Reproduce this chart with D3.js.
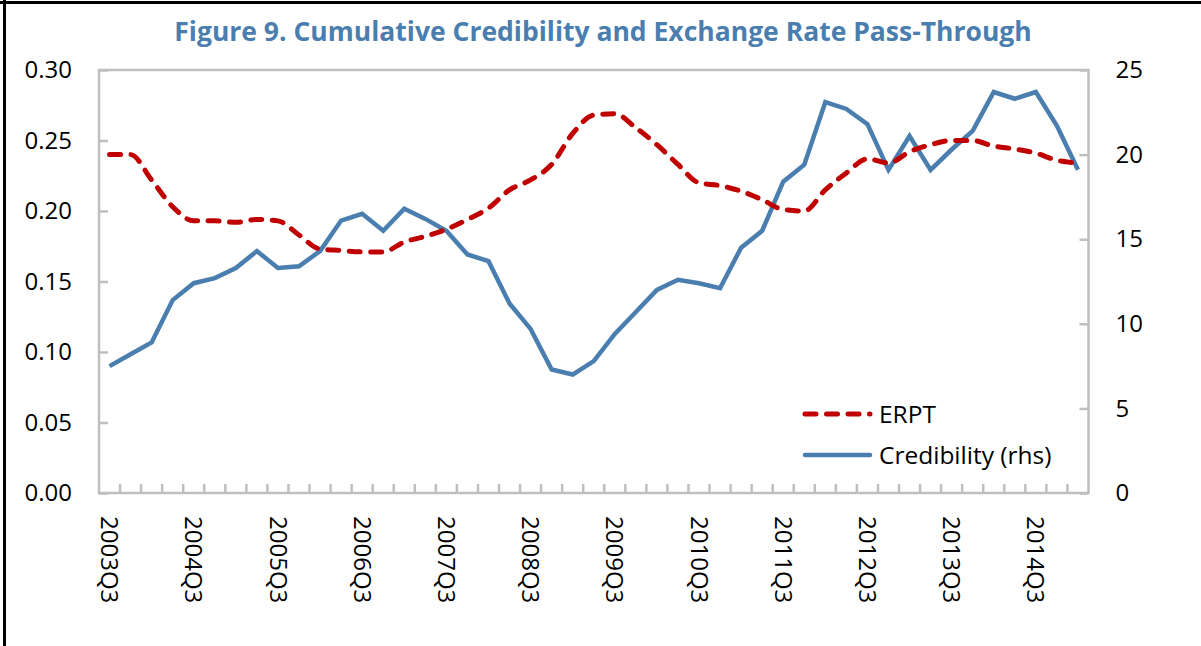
<!DOCTYPE html>
<html>
<head>
<meta charset="utf-8">
<script src="https://cdn.jsdelivr.net/npm/d3@7"></script>
<style>
  body { margin: 0; background: #fff; }
  text { font-family: "Open Sans", "Noto Sans", sans-serif; }
</style>
</head>
<body>
<div id="chart"></div>
<script>
var width = 1201;
var height = 646;

var quarters = [];
for (var yr = 2003; yr <= 2015; yr++) {
  ["Q1", "Q2", "Q3", "Q4"].forEach(function(q) { quarters.push(yr + q); });
}
quarters = quarters.slice(2, 49); // 2003Q3 .. 2015Q1

var erpt = [0.240, 0.240, 0.222, 0.203, 0.193, 0.193, 0.192, 0.194, 0.193, 0.183,
  0.173, 0.172, 0.171, 0.171, 0.178, 0.182, 0.187, 0.194, 0.202, 0.215,
  0.222, 0.233, 0.255, 0.268, 0.269, 0.259, 0.247, 0.233, 0.220, 0.218,
  0.214, 0.208, 0.201, 0.200, 0.215, 0.227, 0.237, 0.234, 0.242, 0.247,
  0.250, 0.250, 0.246, 0.244, 0.241, 0.236, 0.234];

var credibility = [7.5, 8.2, 8.9, 11.4, 12.4, 12.7, 13.3, 14.3, 13.3, 13.4,
  14.3, 16.1, 16.5, 15.5, 16.8, 16.2, 15.5, 14.1, 13.7, 11.2,
  9.7, 7.3, 7.0, 7.8, 9.4, 10.7, 12.0, 12.6, 12.4, 12.1,
  14.5, 15.5, 18.4, 19.4, 23.1, 22.7, 21.8, 19.1, 21.1, 19.1,
  20.3, 21.4, 23.7, 23.3, 23.7, 21.7, 19.1];

var leftTicks = [0, 0.05, 0.10, 0.15, 0.20, 0.25, 0.30];
var rightTicks = [0, 5, 10, 15, 20, 25];

var m = { left: 99, right: 1088.5, top: 70, bottom: 493 };
var red = "#C00000";
var blue = "#4A7EAF";
var grey = "#BFBFBF";

var svg = d3.select("#chart").append("svg")
  .attr("width", width)
  .attr("height", height);

// outer frame (top and left edges visible)
svg.append("line").attr("x1", 4.5).attr("x2", 4.5).attr("y1", 0).attr("y2", height)
  .attr("stroke", "#000").attr("stroke-width", 3);
svg.append("line").attr("x1", 0).attr("x2", width).attr("y1", 2.5).attr("y2", 2.5)
  .attr("stroke", "#000").attr("stroke-width", 3);

svg.append("text")
  .attr("x", 603).attr("y", 41)
  .attr("text-anchor", "middle")
  .attr("font-size", 26.5).attr("font-weight", "bold")
  .attr("fill", blue)
  .text("Figure 9. Cumulative Credibility and Exchange Rate Pass-Through");

var x = d3.scaleBand().domain(quarters).range([m.left, m.right]).padding(0);
var yL = d3.scaleLinear().domain([0, 0.30]).range([m.bottom, m.top]);
var yR = d3.scaleLinear().domain([0, 25]).range([m.bottom, m.top]);

// plot frame
svg.append("rect")
  .attr("x", m.left).attr("y", m.top)
  .attr("width", m.right - m.left).attr("height", m.bottom - m.top)
  .attr("fill", "none").attr("stroke", grey).attr("stroke-width", 2.5);

// left axis
var gL = svg.append("g").attr("transform", "translate(" + m.left + ",0)")
  .call(d3.axisRight(yL).tickValues(leftTicks).tickSize(9).tickFormat(d3.format(".2f")));
gL.select(".domain").remove();
gL.selectAll(".tick line").attr("stroke", grey).attr("stroke-width", 2.5);
gL.selectAll(".tick text").attr("x", -27).attr("text-anchor", "end")
  .attr("font-size", 24).attr("fill", "#000");

// right axis
var gR = svg.append("g").attr("transform", "translate(" + m.right + ",0)")
  .call(d3.axisLeft(yR).tickValues(rightTicks).tickSize(9));
gR.select(".domain").remove();
gR.selectAll(".tick line").attr("stroke", grey).attr("stroke-width", 2.5);
gR.selectAll(".tick text").attr("x", 27).attr("text-anchor", "start")
  .attr("font-size", 24).attr("fill", "#000");

// bottom ticks between categories
var bounds = quarters.slice(1).map(function(q) { return x(q); });
svg.selectAll(".xtick").data(bounds).enter().append("line")
  .attr("x1", function(d) { return d; }).attr("x2", function(d) { return d; })
  .attr("y1", m.bottom).attr("y2", m.bottom - 9)
  .attr("stroke", grey).attr("stroke-width", 2.5);

// x labels every 4 quarters
var labelled = quarters.filter(function(q, i) { return i % 4 === 0; });
svg.selectAll(".xlab").data(labelled).enter().append("text")
  .attr("transform", function(d) {
    return "translate(" + (x(d) + x.bandwidth() / 2) + "," + 516 + ") rotate(90)";
  })
  .attr("dy", "0.35em")
  .attr("font-size", 24).attr("fill", "#000")
  .text(function(d) { return d; });

var cx = function(d, i) { return x(quarters[i]) + x.bandwidth() / 2; };

svg.append("path")
  .datum(credibility)
  .attr("fill", "none").attr("stroke", blue).attr("stroke-width", 4.5)
  .attr("stroke-linejoin", "miter")
  .attr("d", d3.line().x(cx).y(function(d) { return yR(d); }));

svg.append("path")
  .datum(erpt)
  .attr("fill", "none").attr("stroke", red).attr("stroke-width", 5)
  .attr("stroke-linecap", "round")
  .attr("stroke-dasharray", "11,10.5")
  .attr("d", d3.line().x(cx).y(function(d) { return yL(d); }).curve(d3.curveMonotoneX));

// legend
var legend = [
  { name: "ERPT", color: red, dash: "11,10.5", w: 5, cap: "round" },
  { name: "Credibility (rhs)", color: blue, dash: null, w: 4.5, cap: "round" }
];
var lg = svg.selectAll(".leg").data(legend).enter().append("g")
  .attr("transform", function(d, i) { return "translate(0," + (414 + i * 41) + ")"; });
lg.append("line")
  .attr("x1", 805).attr("x2", 870).attr("y1", 0).attr("y2", 0)
  .attr("stroke", function(d) { return d.color; })
  .attr("stroke-width", function(d) { return d.w; })
  .attr("stroke-linecap", function(d) { return d.cap; })
  .attr("stroke-dasharray", function(d) { return d.dash; });
lg.append("text")
  .attr("x", 879).attr("dy", "0.35em")
  .attr("font-size", 24.5).attr("fill", "#000")
  .text(function(d) { return d.name; });
</script>
</body>
</html>
